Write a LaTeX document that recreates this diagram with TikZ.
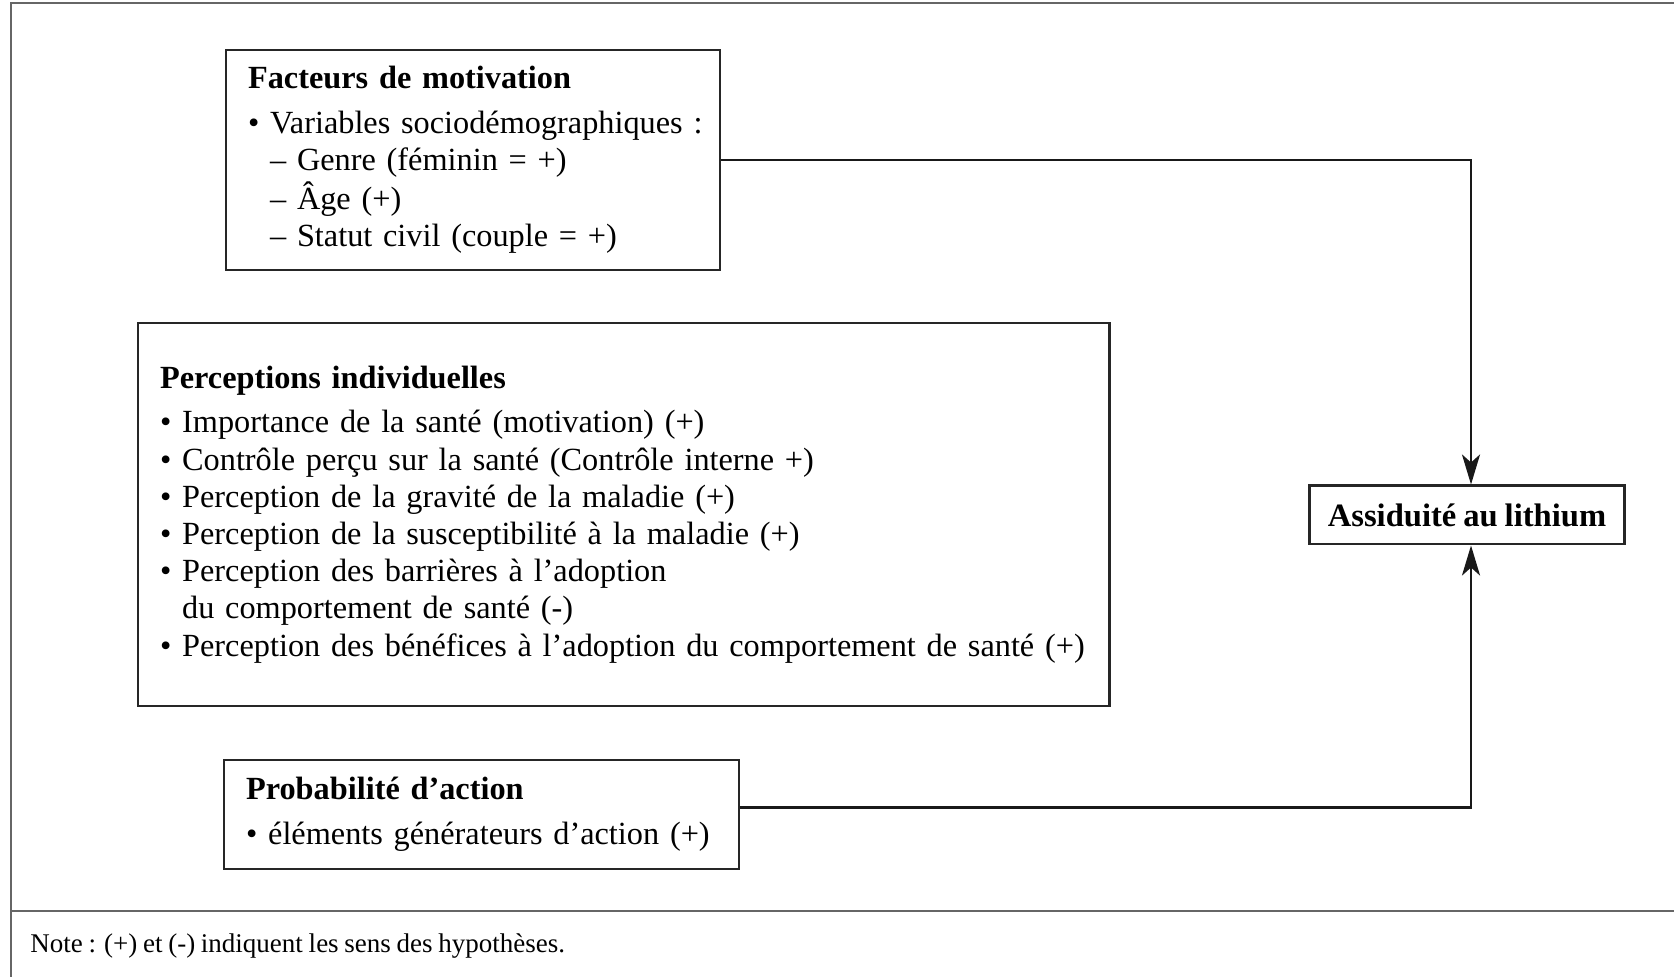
\documentclass[tikz,border=0pt]{standalone}
\usepackage{fontspec}
\setmainfont{Liberation Serif}[WordSpace=0.85]
\usetikzlibrary{arrows.meta}

\newcommand\bul{\textbullet\ }
\newcommand\ind{\hspace*{11pt}}

\begin{document}
\begin{tikzpicture}[x=0.5pt,y=-0.5pt,font=\fontsize{16.15}{18.6}\selectfont,
	box/.style={draw=black!85, line width=1.1pt, anchor=north west, inner xsep=11pt, inner ysep=0pt, align=left},
	link/.style={draw=black!90, line width=1.4pt, -{Stealth[length=15pt,width=9pt,inset=4pt]}},
	frame/.style={draw=black!60, line width=1pt}]

	\useasboundingbox (0,0) rectangle (1674,977);

	% cadre
	\draw[frame]	(1674,3) -- (11,3) -- (11,977);
	\draw[frame]	(11,911) -- (1674,911);

	% boites
	\node[box, text width=225pt, minimum height=110pt] (motiv) at (225,49)
		{\begin{tabular}{@{}l@{}}
		\textbf{Facteurs de motivation}\\[3.7pt]
		\bul Variables sociodémographiques :\\
		\ind -- Genre (féminin = +)\\
		\ind -- Âge (+)\\
		\ind -- Statut civil (couple = +)
		\end{tabular}};

	\node[box, text width=463.7pt, minimum height=191.6pt] (percep) at (137,322)
		{\begin{tabular}{@{}l@{}}
		\textbf{Perceptions individuelles}\\[3.7pt]
		\bul Importance de la santé (motivation) (+)\\
		\bul Contrôle perçu sur la santé (Contrôle interne +)\\
		\bul Perception de la gravité de la maladie (+)\\
		\bul Perception de la susceptibilité à la maladie (+)\\
		\bul Perception des barrières à l'adoption\\
		\ind du comportement de santé (-)\\
		\bul Perception des bénéfices à l'adoption du comportement de santé (+)
		\end{tabular}};

	\node[box, text width=235.3pt, minimum height=54.4pt] (proba) at (223,759)
		{\begin{tabular}{@{}l@{}}
		\textbf{Probabilité d'action}\\[3.7pt]
		\bul éléments générateurs d'action (+)
		\end{tabular}};

	\node[draw=black!85, line width=1.1pt, minimum width=157.5pt, minimum height=29.4pt, inner sep=0pt, font=\fontsize{16.3}{18.6}\selectfont\bfseries] (assid) at (1467,515) {Assiduité au lithium};

	% fleches
	\draw[link]	(motiv.east) -| ([xshift=2pt]assid.north);
	\draw[link]	([yshift=3.5pt]proba.east) -| ([xshift=2pt]assid.south);

	% note
	\node[anchor=base west, inner sep=0pt, font=\fontsize{13.5}{15}\selectfont] (note) at (30,952)
		{Note : (+) et (-) indiquent les sens des hypothèses.};

\end{tikzpicture}
\end{document}
